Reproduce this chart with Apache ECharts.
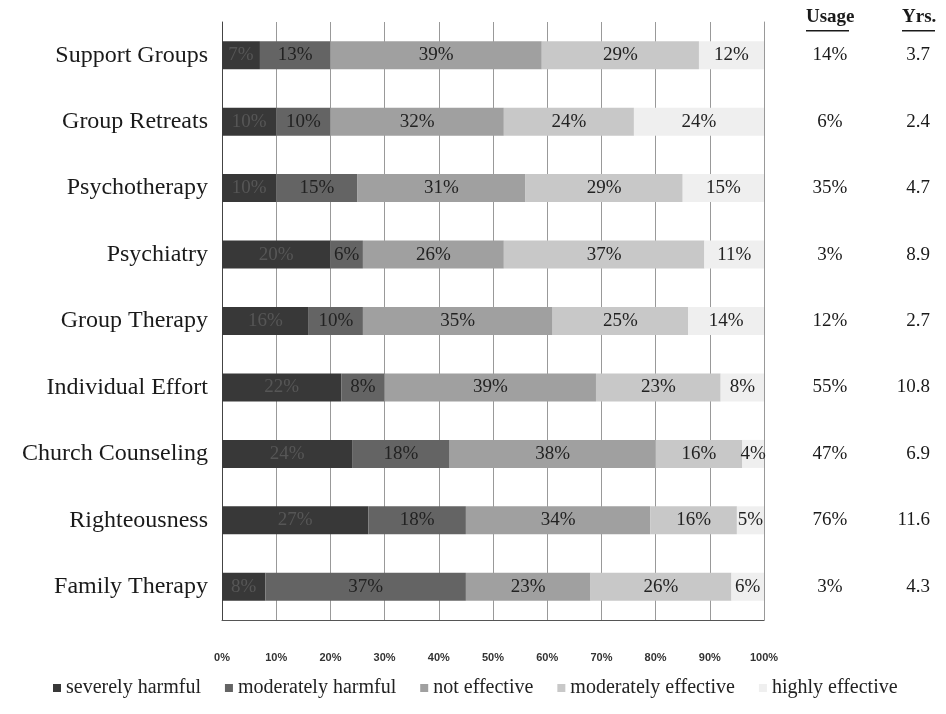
<!DOCTYPE html>
<html>
<head>
<meta charset="utf-8">
<script src="https://cdn.jsdelivr.net/npm/echarts@6/dist/echarts.min.js"></script>
<style>html,body{margin:0;padding:0;background:#fff}#c{width:946px;height:714px}</style>
</head>
<body>
<div id="c"></div>
<script>
const categories = ['Support Groups','Group Retreats','Psychotherapy','Psychiatry','Group Therapy','Individual Effort','Church Counseling','Righteousness','Family Therapy'];
const severelyHarmful    = [7, 10, 10, 20, 16, 22, 24, 27, 8];
const moderatelyHarmful  = [13, 10, 15, 6, 10, 8, 18, 18, 37];
const notEffective       = [39, 32, 31, 26, 35, 39, 38, 34, 23];
const moderatelyEffective= [29, 24, 29, 37, 25, 23, 16, 16, 26];
const highlyEffective    = [12, 24, 15, 11, 14, 8, 4, 5, 6];
const usage = ['14%','6%','35%','3%','12%','55%','47%','76%','3%'];
const years = ['3.7','2.4','4.7','8.9','2.7','10.8','6.9','11.6','4.3'];
const xTicks = [0,10,20,30,40,50,60,70,80,90,100];

const seriesNames = ['severely harmful','moderately harmful','not effective','moderately effective','highly effective'];
const seriesData = [severelyHarmful, moderatelyHarmful, notEffective, moderatelyEffective, highlyEffective];
const colors = ['#383838','#646464','#a0a0a0','#c8c8c8','#efefef'];
const labelColors = ['#565656','#222','#222','#222','#222'];

const chart = echarts.init(document.getElementById('c'));
const serif = '"Liberation Serif","Times New Roman",serif';

const series = seriesNames.map((n,i)=>({
  name:n, type:'bar', stack:'total', barWidth:28,
  itemStyle:{color:colors[i]},
  label:{show:true, position:'inside', formatter:'{c}%', fontFamily:serif, fontSize:19, color:labelColors[i]},
  data:seriesData[i]
}));

chart.setOption({
  animation:false,
  color:colors,
  grid:{left:222, right:182, top:22, bottom:94},
  xAxis:{type:'value', min:xTicks[0], max:xTicks[xTicks.length-1], interval:10,
    axisLine:{show:true, lineStyle:{color:'#555'}},
    axisTick:{show:false},
    splitLine:{show:true, lineStyle:{color:'#999', type:'solid', width:1}},
    axisLabel:{formatter:'{value}%', margin:32, fontFamily:'"Liberation Sans",Arial,sans-serif', fontWeight:'bold', fontSize:11, color:'#333'}},
  yAxis:[
    {type:'category', data:categories, inverse:true,
     axisLine:{show:true, lineStyle:{color:'#444'}}, axisTick:{show:false},
     axisLabel:{fontFamily:serif, fontSize:24, color:'#1a1a1a', margin:14}},
    {type:'category', data:categories.map((c,i)=>usage[i]+'|'+years[i]), inverse:true, position:'right',
     axisLine:{show:true, lineStyle:{color:'#999', type:'dashed'}}, axisTick:{show:false},
     axisLabel:{margin:26, formatter:(v)=>{const p=v.split('|');return '{u|'+p[0]+'}{y|'+p[1]+'}';},
       rich:{u:{width:80, align:'center', fontFamily:serif, fontSize:19, color:'#1a1a1a'},
             y:{width:60, align:'right', fontFamily:serif, fontSize:19, color:'#1a1a1a'}}}}
  ],
  legend:{bottom:11, left:48, itemWidth:8, itemHeight:8, itemGap:24, icon:'rect',
    textStyle:{fontFamily:serif, fontSize:20, color:'#222'}, data:seriesNames},
  graphic:[
    {type:'text', left:806, top:8, style:{text:'Usage', font:'bold 19px "Liberation Serif",serif', fill:'#1a1a1a'}},
    {type:'rect', left:806, top:30, shape:{width:43, height:1.5}, style:{fill:'#1a1a1a'}},
    {type:'text', left:902, top:8, style:{text:'Yrs.', font:'bold 19px "Liberation Serif",serif', fill:'#1a1a1a'}},
    {type:'rect', left:902, top:30, shape:{width:33, height:1.5}, style:{fill:'#1a1a1a'}}
  ],
  series: series
});
</script>
</body>
</html>
